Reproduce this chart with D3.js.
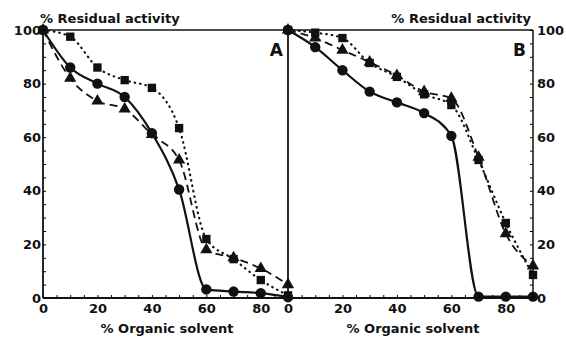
<!DOCTYPE html>
<html>
<head>
<meta charset="utf-8">
<script src="https://cdn.jsdelivr.net/npm/d3@7"></script>
<style>
  body { margin: 0; background: #fff; }
  svg { display: block; }
  text { font-family: "DejaVu Sans", sans-serif; font-weight: bold; fill: #111; }
</style>
</head>
<body>
<svg id="chart"></svg>
<script>
// solvent concentration, same for every series
const solvent = [0, 10, 20, 30, 40, 50, 60, 70, 80, 90];

// panel A
const aCircle   = [100, 86, 80, 75, 61.5, 40.5, 3.2, 2.4, 1.8, 0.3];
const aTriangle = [100, 82, 73.5, 70.5, 61, 51.5, 18, 15, 11, 5];
const aSquare   = [100, 97.5, 86, 81.3, 78.4, 63.4, 22, 14.5, 6.7, 1];

// panel B
const bCircle   = [100, 93.6, 85, 77, 73, 69, 60.5, 0.5, 0.5, 0.5];
const bTriangle = [100, 97, 92.5, 88, 83, 77, 74.5, 52.5, 24, 12];
const bSquare   = [100, 99, 97, 87.7, 82.5, 76, 72, 51.5, 28, 8.6];

const xTicks = [0, 20, 40, 60, 80];
const yTicks = [0, 20, 40, 60, 80, 100];

const width = 566, height = 337;
const svg = d3.select("#chart").attr("width", width).attr("height", height);

const y = d3.scaleLinear().domain([0, 100]).range([298, 30]);
const xA = d3.scaleLinear().domain([0, 90]).range([43, 288]);
const xB = d3.scaleLinear().domain([0, 90]).range([288, 533]);

const styles = {
    circle:   { dash: null,      width: 2.2, cap: "butt" },
    triangle: { dash: "8,5",     width: 1.8, cap: "butt" },
    square:   { dash: "0.5,5",   width: 2.2, cap: "round" }
};

function drawPanel(x, series) {
    const g = svg.append("g");

    series.forEach(s => {
        const pts = solvent.map((v, i) => [v, s.values[i]]);
        const line = d3.line()
            .x(d => x(d[0]))
            .y(d => y(d[1]))
            .curve(d3.curveMonotoneX);
        const st = styles[s.shape];
        g.append("path")
            .datum(pts)
            .attr("d", line)
            .attr("fill", "none")
            .attr("stroke", "#111")
            .attr("stroke-width", st.width)
            .attr("stroke-linecap", st.cap)
            .attr("stroke-dasharray", st.dash);
    });

    series.forEach(s => {
        const pts = solvent.map((v, i) => [v, s.values[i]]);
        const sym = s.shape === "circle" ? d3.symbolCircle
            : s.shape === "square" ? d3.symbolSquare : d3.symbolTriangle;
        const size = s.shape === "circle" ? 85 : s.shape === "square" ? 70 : 65;
        g.selectAll(null)
            .data(pts)
            .join("path")
            .attr("transform", d => `translate(${x(d[0])},${y(d[1])})`)
            .attr("d", d3.symbol().type(sym).size(size))
            .attr("fill", "#111");
    });
}

drawPanel(xA, [
    { shape: "triangle", values: aTriangle },
    { shape: "square", values: aSquare },
    { shape: "circle", values: aCircle }
]);
drawPanel(xB, [
    { shape: "triangle", values: bTriangle },
    { shape: "square", values: bSquare },
    { shape: "circle", values: bCircle }
]);

// frames
const frame = svg.append("g").attr("stroke", "#111").attr("fill", "none");
frame.append("line").attr("x1", 43).attr("x2", 533).attr("y1", 298).attr("y2", 298).attr("stroke-width", 2);
frame.append("line").attr("x1", 43).attr("x2", 533).attr("y1", 30).attr("y2", 30).attr("stroke-width", 1.5);
frame.append("line").attr("x1", 43).attr("x2", 43).attr("y1", 30).attr("y2", 298).attr("stroke-width", 1.8);
frame.append("line").attr("x1", 288).attr("x2", 288).attr("y1", 30).attr("y2", 298).attr("stroke-width", 1.8);
frame.append("line").attr("x1", 533).attr("x2", 533).attr("y1", 30).attr("y2", 298).attr("stroke-width", 1.5);

// axes
const fs = 13;
const yMinor = d3.range(0, 101, 5);
const xMinor = d3.range(0, 91, 5);
const tickFont = g => g.selectAll("text")
    .attr("font-size", fs)
    .attr("font-family", "DejaVu Sans, sans-serif");

svg.append("g").attr("transform", "translate(43,0)")
    .call(d3.axisRight(y).tickValues(yMinor).tickSize(3).tickFormat(""))
    .call(g => g.select(".domain").remove());
svg.append("g").attr("transform", "translate(43,0)")
    .call(d3.axisLeft(y).tickValues(yTicks).tickSize(0).tickPadding(2))
    .call(g => g.select(".domain").remove())
    .call(tickFont);

svg.append("g").attr("transform", "translate(533,0)")
    .call(d3.axisLeft(y).tickValues(yMinor).tickSize(3).tickFormat(""))
    .call(g => g.select(".domain").remove());
svg.append("g").attr("transform", "translate(533,0)")
    .call(d3.axisRight(y).tickValues(yTicks).tickSize(0).tickPadding(4))
    .call(g => g.select(".domain").remove())
    .call(tickFont);

[xA, xB].forEach(x => {
    svg.append("g").attr("transform", "translate(0,298)")
        .call(d3.axisTop(x).tickValues(xMinor).tickSize(3).tickFormat(""))
        .call(g => g.select(".domain").remove());
    svg.append("g").attr("transform", "translate(0,298)")
        .call(d3.axisBottom(x).tickValues(xTicks).tickSize(0).tickPadding(6))
        .call(g => g.select(".domain").remove())
        .call(tickFont);
});

// titles
svg.append("text").attr("x", 40).attr("y", 23).attr("font-size", 13).text("% Residual activity");
svg.append("text").attr("x", 531).attr("y", 23).attr("text-anchor", "end").attr("font-size", 13).text("% Residual activity");
svg.append("text").attr("x", 167).attr("y", 333).attr("text-anchor", "middle").attr("font-size", 13).text("% Organic solvent");
svg.append("text").attr("x", 413).attr("y", 333).attr("text-anchor", "middle").attr("font-size", 13).text("% Organic solvent");
svg.append("text").attr("x", 283).attr("y", 56).attr("text-anchor", "end").attr("font-size", 17).text("A");
svg.append("text").attr("x", 526).attr("y", 56).attr("text-anchor", "end").attr("font-size", 17).text("B");
</script>
</body>
</html>
